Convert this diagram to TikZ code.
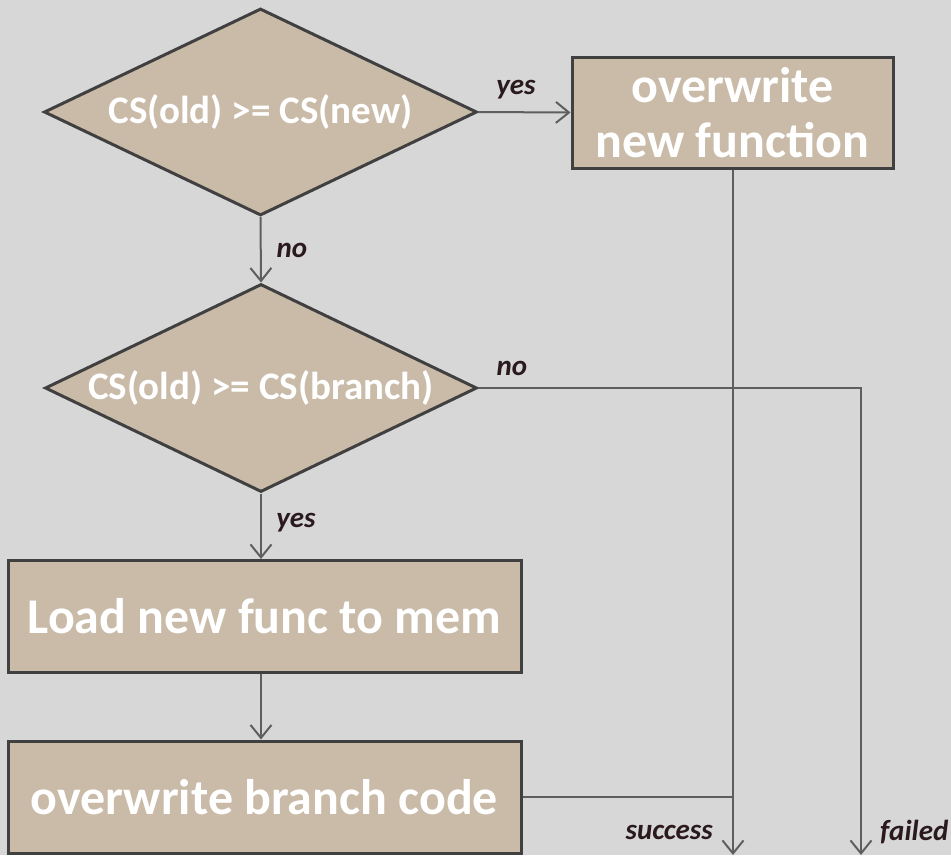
\documentclass[tikz,border=0pt]{standalone}
\usepackage{fontspec}
\setmainfont{Carlito}
\usetikzlibrary{shapes.geometric,arrows.meta}
\definecolor{bgcol}{HTML}{D7D7D7}
\definecolor{boxfill}{HTML}{C9BBA8}
\definecolor{boxline}{HTML}{404040}
\definecolor{conn}{HTML}{5E5E5E}
\definecolor{lbl}{HTML}{2A1A1E}
\begin{document}
\begin{tikzpicture}[x=1pt,y=-1pt,
  decision/.style={diamond, shape aspect=2.09, draw=boxline, fill=boxfill, line width=3pt, inner sep=0pt,
    text=white, font=\fontsize{39}{42}\selectfont\bfseries},
  procbox/.style={rectangle, draw=boxline, fill=boxfill, line width=3pt, inner sep=0pt,
    text=white, align=center, font=\fontsize{50}{55}\selectfont\bfseries},
  conline/.style={draw=conn, line width=2pt},
  arr/.style={conline, -{Straight Barb[length=13pt,width=21pt,line width=2pt]}},
  lab/.style={text=lbl, font=\fontsize{29}{31}\selectfont\bfseries\itshape, inner sep=0pt}]
\fill[bgcol] (0,0) rectangle (951,855);
\useasboundingbox (0,0) rectangle (951,855);

\node[decision, minimum width=433pt, minimum height=207pt] (d1) at (260.5,112) {CS(old) >= CS(new)};
\node[decision, minimum width=432pt, minimum height=208pt] (d2) at (261,388) {CS(old) >= CS(branch)};
\node[procbox, minimum width=321pt, minimum height=111pt] (ow) at (732.5,112.5) {overwrite\\new function};
\node[procbox, minimum width=513pt, minimum height=112pt] (load) at (264.5,616.5) {Load new func to mem};
\node[procbox, minimum width=513pt, minimum height=112pt] (br) at (264.5,797) {overwrite branch code};

\coordinate (succ) at (733,855);
\coordinate (failc) at (861,388);
\coordinate (fail) at (861,855);
\coordinate (join) at (733,797);

\draw[arr] (d1.east) -- (ow.west);
\draw[arr] (d1.south) -- (d2.north);
\draw[arr] (d2.south) -- (d2.south |- load.north);
\draw[arr] (d2.south |- load.south) -- (d2.south |- br.north);
\draw[arr] (ow.south -| succ) -- (succ);
\draw[conline] (br.east) -- (join);
\draw[arr] (d2.east) -- (failc) -- (fail);

\node[lab] (lyes1) at (516,90) {yes};
\node[lab] (lno1) at (292,250) {no};
\node[lab] (lno2) at (512,368) {no};
\node[lab] (lyes2) at (296,523) {yes};
\node[lab, anchor=east] (lsucc) at (713,832) {success};
\node[lab, anchor=west] (lfail) at (880,832) {failed};
\end{tikzpicture}
\end{document}
